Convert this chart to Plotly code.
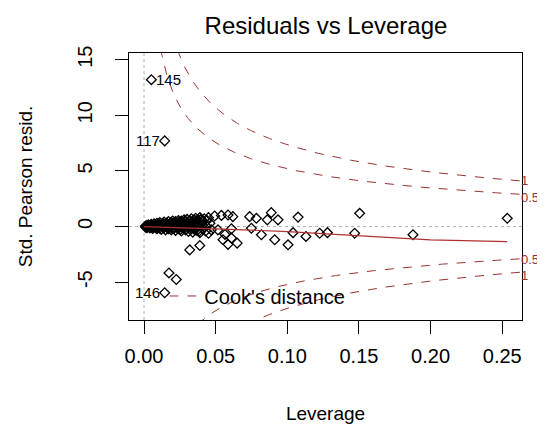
import numpy as np
import plotly.graph_objects as go

# ---- data ----
leverage = [
    0.0051, 0.0144, 0.0144, 0.0174, 0.0225, 0.0319, 0.0389,
    0.0493, 0.054, 0.0586, 0.062, 0.0516, 0.0551, 0.0586, 0.061, 0.065, 0.0565, 0.061,
    0.0737, 0.0784, 0.0888, 0.086, 0.0935, 0.1075, 0.0749, 0.0819, 0.0912, 0.1005,
    0.104, 0.113, 0.1226, 0.128, 0.1505, 0.147, 0.1877, 0.2535,
    0.001, 0.001, 0.002, 0.002, 0.003, 0.003, 0.004, 0.004, 0.005, 0.005,
    0.006, 0.006, 0.007, 0.007, 0.008, 0.008, 0.009, 0.009, 0.010, 0.010,
    0.011, 0.011, 0.012, 0.012, 0.013, 0.013, 0.014, 0.014, 0.015, 0.015,
    0.016, 0.016, 0.017, 0.017, 0.018, 0.018, 0.019, 0.019, 0.020, 0.020,
    0.021, 0.021, 0.022, 0.022, 0.023, 0.023, 0.024, 0.024, 0.025, 0.025,
    0.026, 0.026, 0.027, 0.027, 0.028, 0.028, 0.029, 0.029, 0.030, 0.030,
    0.031, 0.031, 0.032, 0.032, 0.033, 0.033, 0.034, 0.034, 0.035, 0.035,
    0.036, 0.036, 0.037, 0.037, 0.038, 0.038, 0.039, 0.039, 0.040, 0.040,
    0.041, 0.041, 0.042, 0.043, 0.043, 0.044, 0.045, 0.045, 0.046, 0.047,
    0.0015, 0.0025, 0.0035, 0.0045, 0.0055, 0.0065, 0.0075, 0.0085, 0.0095, 0.0105,
    0.0115, 0.0125, 0.0135, 0.0145, 0.0155, 0.0165, 0.0175, 0.0185, 0.0195, 0.0205,
    0.0215, 0.0225, 0.0235, 0.0245, 0.0255, 0.0265, 0.0275, 0.0285, 0.0295, 0.0305,
    0.0315, 0.0325, 0.0335, 0.0345, 0.0355, 0.0365, 0.0375, 0.0385, 0.0395, 0.0405,
]
std_pearson_resid = [
    13.2, 7.7, -5.95, -4.17, -4.76, -2.1, -1.7,
    0.95, 1.0, 1.04, 0.89, -0.3, -1.19, -1.6, -1.04, -1.49, -0.71, -0.2,
    0.89, 0.74, 1.25, 0.6, 0.6, 0.85, -0.15, -0.74, -1.19, -1.64,
    -0.55, -0.89, -0.6, -0.55, 1.19, -0.6, -0.74, 0.74,
    0.05, -0.05, 0.1, -0.1, 0.0, 0.15, -0.12, 0.08, -0.05, 0.2,
    0.12, -0.18, 0.02, 0.25, -0.1, 0.18, 0.3, -0.2, 0.05, 0.22,
    -0.15, 0.35, 0.1, -0.25, 0.28, 0.0, -0.1, 0.4, 0.15, -0.3,
    0.32, 0.05, -0.2, 0.45, 0.2, -0.05, 0.38, -0.3, 0.1, 0.5,
    -0.15, 0.3, 0.45, -0.35, 0.2, 0.0, 0.55, -0.2, 0.35, 0.1,
    -0.4, 0.5, 0.25, -0.1, 0.6, 0.15, -0.3, 0.4, 0.65, 0.0,
    0.3, -0.45, 0.55, 0.1, -0.2, 0.7, 0.4, -0.5, 0.2, 0.6,
    -0.1, 0.75, 0.35, -0.35, 0.55, 0.05, 0.8, -0.55, 0.3, 0.65,
    -0.2, 0.45, 0.7, -0.4, 0.1, 0.55, -0.6, 0.8, 0.3, -0.3,
    0.0, -0.02, 0.05, 0.1, 0.02, -0.08, 0.12, 0.0, -0.12, 0.15,
    0.05, 0.2, -0.05, 0.1, 0.25, -0.12, 0.05, 0.3, -0.15, 0.2,
    0.35, -0.05, 0.12, 0.4, -0.25, 0.3, 0.05, 0.45, -0.2, 0.25,
    0.5, -0.1, 0.35, 0.15, -0.3, 0.45, 0.2, -0.4, 0.6, 0.1,
]
labelled_ids = ["145", "117", "146"]
labelled_idx = [0, 1, 2]

smooth_leverage = [0.0, 0.03, 0.06, 0.10, 0.12, 0.15, 0.17, 0.20, 0.2535]
smooth_resid = [0.0, -0.1, -0.25, -0.45, -0.6, -0.8, -0.95, -1.2, -1.35]

cook_levels = [0.5, 1.0]
n_params = 6

x_ticks = [0.00, 0.05, 0.10, 0.15, 0.20, 0.25]
y_ticks = [-5, 0, 5, 10, 15]
x_range = [-0.0105, 0.2638]
y_range = [-8.4, 15.6]

FONT = "Liberation Sans, Arial, sans-serif"
RED = "#9a3232"

fig = go.Figure()

# reference lines h=0, v=0
fig.add_trace(go.Scatter(x=x_range, y=[0, 0], mode="lines",
                         line=dict(color="#b0b0b0", width=1, dash="dot"),
                         showlegend=False, hoverinfo="skip"))
fig.add_trace(go.Scatter(x=[0, 0], y=y_range, mode="lines",
                         line=dict(color="#b0b0b0", width=1, dash="dot"),
                         showlegend=False, hoverinfo="skip"))

# points
fig.add_trace(go.Scatter(x=leverage, y=std_pearson_resid, mode="markers",
                         marker=dict(symbol="diamond-open", size=7.5,
                                     color="black", line=dict(width=1.3, color="black")),
                         showlegend=False))

# smoother
fig.add_trace(go.Scatter(x=smooth_leverage, y=smooth_resid, mode="lines",
                         line=dict(color="#b03030", width=1.2),
                         showlegend=False))

# Cook's distance contours
hh = np.linspace(0.0005, x_range[1], 400)
label_shift = {(1.0, 1): 1, (0.5, 1): -3, (0.5, -1): -1, (1.0, -1): -3}
for i, lv in enumerate(cook_levels):
    yy = np.sqrt(lv * n_params * (1 - hh) / hh)
    for sgn in (1, -1):
        fig.add_trace(go.Scatter(x=hh, y=sgn * yy, mode="lines",
                                 line=dict(color=RED, width=1, dash="dash"),
                                 name="Cook's distance",
                                 showlegend=(i == 0 and sgn == 1),
                                 hoverinfo="skip"))
    yend = float(np.sqrt(lv * n_params * (1 - x_range[1]) / x_range[1]))
    for sgn in (1, -1):
        fig.add_annotation(x=1.0, xref="paper", y=sgn * yend, yref="y",
                           text=("1" if lv == 1.0 else "0.5"), showarrow=False,
                           xanchor="left", xshift=-2, yshift=label_shift[(lv, sgn)],
                           borderpad=0,
                           font=dict(family=FONT, size=13, color=RED))

# point id labels
for lab, k in zip(labelled_ids, labelled_idx):
    right = lab == "145"
    fig.add_annotation(x=leverage[k], y=std_pearson_resid[k], text=lab,
                       showarrow=False,
                       xanchor="left" if right else "right",
                       xshift=3 if right else -3,
                       font=dict(family=FONT, size=15, color="black"))

fig.update_layout(
    width=545, height=424, autosize=False,
    margin=dict(l=121, r=31, t=45, b=110),
    plot_bgcolor="white", paper_bgcolor="white",
    title=dict(text="Residuals vs Leverage", x=(318 - 121) / 393, xref="paper",
               xanchor="center", y=1 - 18 / 424, yanchor="middle",
               font=dict(family=FONT, size=24, color="black")),
    legend=dict(x=0.09, y=0.09, xanchor="left", yanchor="middle",
                bgcolor="rgba(0,0,0,0)", font=dict(family=FONT, size=20, color="black")),
    font=dict(family=FONT, color="black"),
)
fig.update_xaxes(range=x_range, tickvals=x_ticks,
                 ticktext=[f"{v:.2f}" for v in x_ticks],
                 showgrid=False, zeroline=False, showline=True, mirror=True,
                 linecolor="black", linewidth=1, ticks="outside", ticklen=13,
                 tickcolor="black", ticklabelstandoff=5,
                 tickfont=dict(family=FONT, size=20, color="black"),
                 title=dict(text="Leverage", standoff=40,
                            font=dict(family=FONT, size=19, color="black")))
fig.update_yaxes(range=y_range, tickvals=y_ticks, ticktext=[str(v) for v in y_ticks],
                 tickangle=-90,
                 showgrid=False, zeroline=False, showline=True, mirror=True,
                 linecolor="black", linewidth=1, ticks="outside", ticklen=13,
                 tickcolor="black", ticklabelstandoff=15,
                 tickfont=dict(family=FONT, size=20, color="black"),
                 title=dict(text="Std. Pearson resid.", standoff=36,
                            font=dict(family=FONT, size=19, color="black")))

fig.write_html("out.html")
